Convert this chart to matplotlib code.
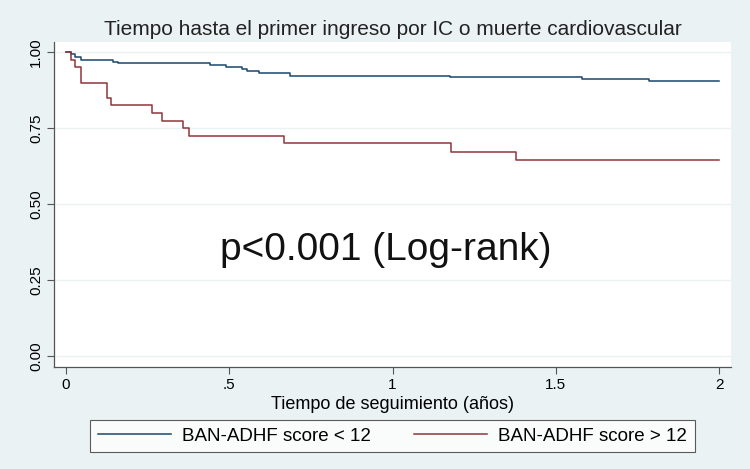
import matplotlib
matplotlib.use("Agg")
import matplotlib.pyplot as plt

# --- datos ---
t_bajo = [0, 0.014, 0.028, 0.046, 0.145, 0.16, 0.44, 0.49, 0.54, 0.555, 0.59, 0.687, 1.175, 1.58, 1.785, 2.0]
s_bajo = [1.0, 0.995, 0.985, 0.974, 0.968, 0.963, 0.956, 0.95, 0.944, 0.938, 0.932, 0.923, 0.917, 0.91, 0.904, 0.904]

t_alto = [0, 0.014, 0.028, 0.046, 0.127, 0.138, 0.263, 0.295, 0.358, 0.378, 0.669, 1.178, 1.377, 2.0]
s_alto = [1.0, 0.975, 0.95, 0.90, 0.85, 0.825, 0.80, 0.775, 0.75, 0.725, 0.70, 0.672, 0.645, 0.645]

yticks = [0, 0.25, 0.5, 0.75, 1.0]
ytick_labels = ["0.00", "0.25", "0.50", "0.75", "1.00"]
xticks = [0, 0.5, 1, 1.5, 2]
xtick_labels = ["0", ".5", "1", "1.5", "2"]

etiquetas = ["BAN-ADHF score < 12", "BAN-ADHF score > 12"]
titulo = "Tiempo hasta el primer ingreso por IC o muerte cardiovascular"
texto_p = "p<0.001 (Log-rank)"

# --- estilo ---
plt.rcParams['font.family'] = ['Liberation Sans', 'DejaVu Sans']
fondo = "#eaf2f3"
azul = "#1a476f"
rojo = "#90353b"
gris = "#555555"

fig = plt.figure(figsize=(7.5, 4.69), dpi=100, facecolor=fondo)
ax = fig.add_axes([0.072, 0.2175, 0.9027, 0.6929])
ax.set_facecolor("white")

for y in yticks:
    ax.axhline(y, color="#eaf2f3", lw=1.0, zorder=0)

ax.step(t_bajo, s_bajo, where="post", color=azul, lw=1.1, label=etiquetas[0])
ax.step(t_alto, s_alto, where="post", color=rojo, lw=1.1, label=etiquetas[1])

ax.set_xlim(-0.0368, 2.0368)
ax.set_ylim(-0.0345, 1.033)

ax.set_yticks(yticks)
ax.set_yticklabels(ytick_labels, rotation=90, va="center", fontsize=11)
ax.set_xticks(xticks)
ax.set_xticklabels(xtick_labels, fontsize=11)
ax.tick_params(direction="out", length=5, width=0.8, color=gris, pad=3)

for lado in ["top", "right"]:
    ax.spines[lado].set_visible(False)
for lado in ["left", "bottom"]:
    ax.spines[lado].set_color(gris)
    ax.spines[lado].set_linewidth(0.9)

ax.set_xlabel("Tiempo de seguimiento (años)", fontsize=13, labelpad=3)
ax.set_title(titulo, fontsize=15, color="#222222", pad=5)

# texto del log-rank, línea base en y ~ 0.316
ax.text(0.98, 0.316, texto_p, fontsize=28, ha="center", va="baseline", color="#111111")

leg = fig.legend(loc="center", bbox_to_anchor=(0.5233, 0.0704), ncol=2, frameon=True,
                 fancybox=False, edgecolor="#333333", fontsize=13.5, handlelength=3.9,
                 columnspacing=2.3, borderpad=0.4, handletextpad=0.6, borderaxespad=0)
leg.get_frame().set_linewidth(0.8)

fig.savefig("out.png", dpi=100, facecolor=fondo)
